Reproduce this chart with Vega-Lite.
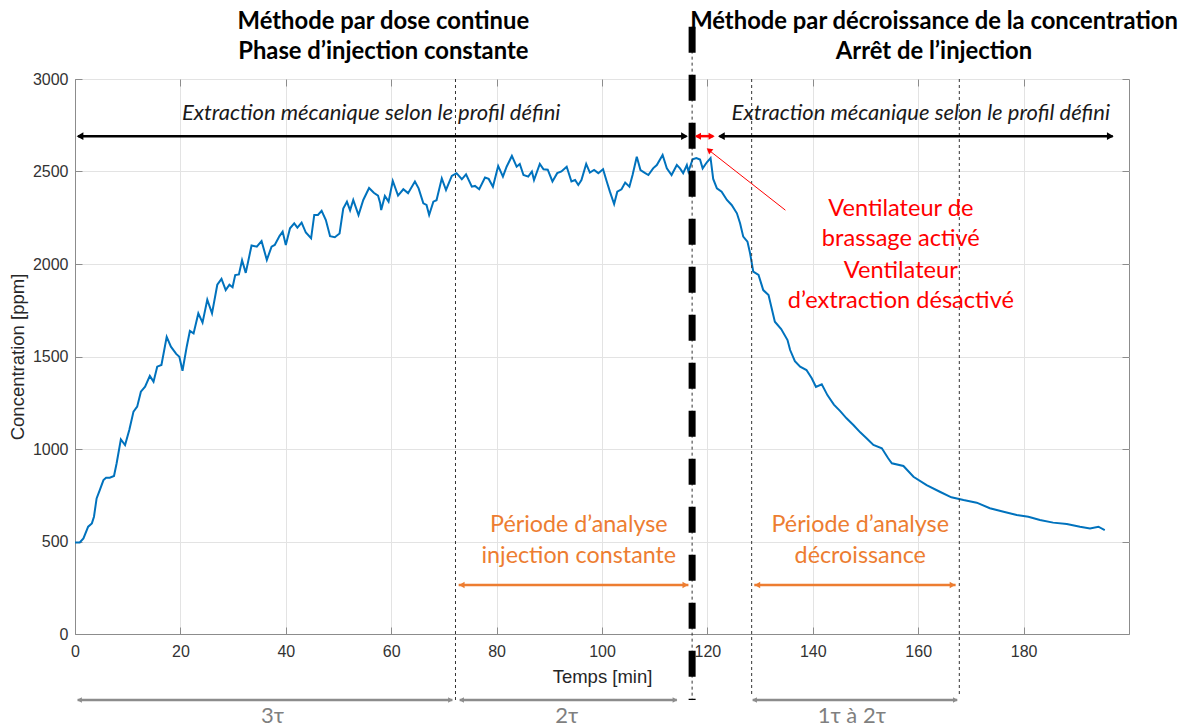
{
  "$schema": "https://vega.github.io/schema/vega-lite/v6.json",
  "width": 1054,
  "height": 555,
  "autosize": "none",
  "padding": {"left": 75, "top": 79, "right": 60, "bottom": 94},
  "config": {"view": {"stroke": "#8c8c8c", "strokeWidth": 1}, "font": "Liberation Sans"},
  "datasets": {
    "curve": [
      {"t":0,"c":495},{"t":0.9,"c":495},{"t":1.6,"c":517},{"t":2.5,"c":580},{"t":3.2,"c":598},{"t":3.6,"c":634},{"t":4.1,"c":733},{"t":4.7,"c":778},{"t":5.4,"c":832},{"t":5.9,"c":845},{"t":6.6,"c":845},{"t":7.4,"c":854},{"t":7.9,"c":923},{"t":8.7,"c":1052},{"t":9.5,"c":1021},{"t":10.3,"c":1103},{"t":11.1,"c":1202},{"t":11.8,"c":1229},{"t":12.5,"c":1310},{"t":13.3,"c":1337},{"t":14.2,"c":1395},{"t":14.9,"c":1364},{"t":15.6,"c":1445},{"t":16.4,"c":1454},{"t":17.4,"c":1606},{"t":18.2,"c":1553},{"t":19.2,"c":1514},{"t":19.8,"c":1499},{"t":20.4,"c":1423},{"t":21.2,"c":1553},{"t":21.8,"c":1638},{"t":22.5,"c":1625},{"t":23.4,"c":1733},{"t":24.2,"c":1683},{"t":25.1,"c":1807},{"t":26.0,"c":1733},{"t":27.0,"c":1888},{"t":27.8,"c":1920},{"t":28.6,"c":1859},{"t":29.3,"c":1888},{"t":29.9,"c":1874},{"t":30.4,"c":1940},{"t":31.1,"c":1944},{"t":31.7,"c":2020},{"t":32.4,"c":1952},{"t":33.5,"c":2100},{"t":34.5,"c":2094},{"t":35.4,"c":2124},{"t":36.4,"c":2022},{"t":37.3,"c":2094},{"t":37.9,"c":2103},{"t":38.8,"c":2151},{"t":39.4,"c":2175},{"t":40.0,"c":2103},{"t":40.8,"c":2193},{"t":41.6,"c":2220},{"t":42.2,"c":2197},{"t":43.0,"c":2224},{"t":43.8,"c":2170},{"t":44.8,"c":2139},{"t":45.4,"c":2265},{"t":46.1,"c":2265},{"t":46.8,"c":2288},{"t":47.6,"c":2238},{"t":48.4,"c":2150},{"t":49.3,"c":2145},{"t":50.2,"c":2165},{"t":50.9,"c":2300},{"t":51.6,"c":2337},{"t":52.2,"c":2290},{"t":52.8,"c":2346},{"t":53.8,"c":2265},{"t":54.7,"c":2346},{"t":55.8,"c":2411},{"t":56.7,"c":2385},{"t":57.5,"c":2370},{"t":57.9,"c":2330},{"t":58.1,"c":2292},{"t":58.8,"c":2368},{"t":59.5,"c":2337},{"t":60.3,"c":2449},{"t":61.3,"c":2370},{"t":62.3,"c":2404},{"t":63.2,"c":2383},{"t":64.5,"c":2446},{"t":65.2,"c":2409},{"t":66.1,"c":2328},{"t":66.7,"c":2319},{"t":67.2,"c":2265},{"t":68.0,"c":2337},{"t":68.6,"c":2345},{"t":69.6,"c":2463},{"t":70.4,"c":2400},{"t":71.5,"c":2476},{"t":72.4,"c":2491},{"t":73.4,"c":2458},{"t":74.2,"c":2485},{"t":75.3,"c":2418},{"t":75.9,"c":2422},{"t":76.7,"c":2404},{"t":77.8,"c":2467},{"t":78.5,"c":2460},{"t":79.3,"c":2418},{"t":80.3,"c":2530},{"t":81.2,"c":2472},{"t":81.9,"c":2526},{"t":82.9,"c":2584},{"t":83.8,"c":2526},{"t":84.4,"c":2541},{"t":85.1,"c":2481},{"t":86.0,"c":2472},{"t":86.7,"c":2500},{"t":87.1,"c":2454},{"t":88.2,"c":2541},{"t":88.9,"c":2512},{"t":89.7,"c":2510},{"t":90.6,"c":2446},{"t":91.5,"c":2491},{"t":92.3,"c":2500},{"t":93.3,"c":2526},{"t":94.2,"c":2446},{"t":94.9,"c":2454},{"t":95.5,"c":2427},{"t":96.1,"c":2454},{"t":97.0,"c":2541},{"t":97.7,"c":2494},{"t":98.5,"c":2508},{"t":99.3,"c":2491},{"t":100.2,"c":2512},{"t":100.9,"c":2446},{"t":101.5,"c":2391},{"t":102.3,"c":2324},{"t":102.9,"c":2391},{"t":103.7,"c":2404},{"t":104.4,"c":2440},{"t":105.2,"c":2418},{"t":105.8,"c":2481},{"t":106.6,"c":2580},{"t":107.3,"c":2508},{"t":108.2,"c":2491},{"t":108.8,"c":2481},{"t":109.7,"c":2517},{"t":110.4,"c":2535},{"t":111.5,"c":2589},{"t":112.3,"c":2517},{"t":113.2,"c":2481},{"t":114.2,"c":2535},{"t":114.8,"c":2517},{"t":115.4,"c":2491},{"t":116.1,"c":2535},{"t":116.4,"c":2500},{"t":117.2,"c":2566},{"t":117.9,"c":2573},{"t":118.6,"c":2565},{"t":119.1,"c":2517},{"t":119.9,"c":2550},{"t":120.6,"c":2573},{"t":121.1,"c":2460},{"t":121.8,"c":2409},{"t":122.7,"c":2391},{"t":123.7,"c":2346},{"t":124.6,"c":2319},{"t":125.6,"c":2274},{"t":126.2,"c":2220},{"t":126.8,"c":2148},{"t":127.6,"c":2121},{"t":128.1,"c":2058},{"t":128.7,"c":1959},{"t":129.7,"c":1941},{"t":130.6,"c":1859},{"t":131.6,"c":1832},{"t":132.8,"c":1688},{"t":134.0,"c":1648},{"t":135.2,"c":1589},{"t":135.7,"c":1535},{"t":136.6,"c":1475},{"t":137.6,"c":1445},{"t":138.8,"c":1427},{"t":139.8,"c":1382},{"t":140.6,"c":1335},{"t":141.7,"c":1350},{"t":142.8,"c":1290},{"t":144.0,"c":1240},{"t":145.2,"c":1205},{"t":146.4,"c":1166},{"t":147.7,"c":1130},{"t":149.0,"c":1090},{"t":150.2,"c":1058},{"t":151.5,"c":1022},{"t":153.1,"c":1004},{"t":154.3,"c":950},{"t":155.0,"c":923},{"t":157.2,"c":908},{"t":159.1,"c":850},{"t":161.6,"c":805},{"t":164.1,"c":769},{"t":166.3,"c":739},{"t":168.6,"c":724},{"t":171.1,"c":710},{"t":173.6,"c":680},{"t":176.2,"c":661},{"t":178.7,"c":643},{"t":180.9,"c":634},{"t":183.1,"c":616},{"t":185.6,"c":602},{"t":188.2,"c":595},{"t":190.7,"c":580},{"t":192.6,"c":571},{"t":194.2,"c":580},{"t":195.4,"c":562}
    ],
    "vlines": [
      {"t": 72.2, "top": 3000, "bottom": -357},
      {"t": 117.1, "top": 3283, "bottom": -357},
      {"t": 128.4, "top": 3000, "bottom": -330},
      {"t": 167.8, "top": 3000, "bottom": -330}
    ],
    "segments": [
      {"x1": 0.6, "x2": 116.0, "y": 2691, "g": "extraction"},
      {"x1": 122.3, "x2": 196.9, "y": 2691, "g": "extraction"},
      {"x1": 117.9, "x2": 121.1, "y": 2691, "g": "brassage"},
      {"x1": 72.8, "x2": 116.4, "y": 265, "g": "analyse"},
      {"x1": 128.9, "x2": 167.1, "y": 265, "g": "analyse"},
      {"x1": 0.5, "x2": 71.6, "y": -357, "g": "tau"},
      {"x1": 73.0, "x2": 114.2, "y": -357, "g": "tau"},
      {"x1": 128.6, "x2": 167.4, "y": -357, "g": "tau"}
    ],
    "heads": [
      {"t": 0.95, "y": 2691, "g": "extraction", "dir": "left"},
      {"t": 115.65, "y": 2691, "g": "extraction", "dir": "right"},
      {"t": 122.65, "y": 2691, "g": "extraction", "dir": "left"},
      {"t": 196.45, "y": 2691, "g": "extraction", "dir": "right"},
      {"t": 118.2, "y": 2691, "g": "brassage", "dir": "left"},
      {"t": 120.8, "y": 2691, "g": "brassage", "dir": "right"},
      {"t": 73.4, "y": 265, "g": "analyse", "dir": "left"},
      {"t": 115.8, "y": 265, "g": "analyse", "dir": "right"},
      {"t": 129.5, "y": 265, "g": "analyse", "dir": "left"},
      {"t": 166.5, "y": 265, "g": "analyse", "dir": "right"},
      {"t": 0.85, "y": -357, "g": "tau", "dir": "left"},
      {"t": 71.25, "y": -357, "g": "tau", "dir": "right"},
      {"t": 73.35, "y": -357, "g": "tau", "dir": "left"},
      {"t": 113.85, "y": -357, "g": "tau", "dir": "right"},
      {"t": 128.95, "y": -357, "g": "tau", "dir": "left"},
      {"t": 167.05, "y": -357, "g": "tau", "dir": "right"}
    ]
  },
  "layer": [
    {
      "data": {"name": "curve"},
      "mark": {"type": "line", "color": "#0072BD", "strokeWidth": 2},
      "encoding": {
        "x": {"field": "t", "type": "quantitative", "scale": {"domain": [0, 200], "nice": false},
          "axis": {"orient": "bottom", "values": [0,20,40,60,80,100,120,140,160,180], "title": "Temps [min]", "format": "d",
            "titleFont": "Liberation Sans", "titleFontSize": 18.5, "titleFontWeight": "normal", "titleColor": "#262626", "titlePadding": 8,
            "labelFont": "Liberation Sans", "labelFontSize": 16, "labelColor": "#333333", "labelPadding": 16, "labelFlush": false, "labelOverlap": false,
            "tickSize": -7, "tickColor": "#8c8c8c", "domainColor": "#8c8c8c", "grid": true, "gridColor": "#e3e3e3"}},
        "y": {"field": "c", "type": "quantitative", "scale": {"domain": [0, 3000], "nice": false},
          "axis": {"orient": "left", "values": [0,500,1000,1500,2000,2500,3000], "title": "Concentration [ppm]", "format": "d",
            "titleFont": "Liberation Sans", "titleFontSize": 18.5, "titleFontWeight": "normal", "titleColor": "#262626", "titlePadding": 5,
            "labelFont": "Liberation Sans", "labelFontSize": 16, "labelColor": "#333333", "labelPadding": 14, "labelFlush": false, "labelOverlap": false,
            "tickSize": -7, "tickColor": "#8c8c8c", "domainColor": "#8c8c8c", "grid": true, "gridColor": "#e3e3e3"}}
      }
    },
    {
      "data": {"name": "vlines"},
      "mark": {"type": "rule", "color": "#333333", "strokeWidth": 1, "strokeDash": [3, 3]},
      "encoding": {
        "x": {"field": "t", "type": "quantitative",
          "axis": {"orient": "top", "values": [0,20,40,60,80,100,120,140,160,180], "labels": false, "grid": false, "domain": false, "title": null, "tickSize": -7, "tickColor": "#8c8c8c"}},
        "y": {"field": "top", "type": "quantitative",
          "axis": {"orient": "right", "values": [0,500,1000,1500,2000,2500,3000], "labels": false, "grid": false, "domain": false, "title": null, "tickSize": -7, "tickColor": "#8c8c8c"}},
        "y2": {"field": "bottom"}
      }
    },
    {
      "data": {"values": [{"t": 117.1, "top": 3283, "bottom": -357}]},
      "mark": {"type": "rule", "color": "#000000", "strokeWidth": 7, "strokeDash": [26, 22]},
      "encoding": {
        "x": {"field": "t", "type": "quantitative", "axis": null},
        "y": {"field": "top", "type": "quantitative", "axis": null},
        "y2": {"field": "bottom"}
      }
    },
    {
      "data": {"name": "segments"},
      "mark": {"type": "rule"},
      "encoding": {
        "x": {"field": "x1", "type": "quantitative", "axis": null},
        "x2": {"field": "x2"},
        "y": {"field": "y", "type": "quantitative", "axis": null},
        "color": {"field": "g", "type": "nominal", "legend": null,
          "scale": {"domain": ["extraction", "brassage", "analyse", "tau"], "range": ["#000000", "#ff0000", "#ED7D31", "#8c8c8c"]}},
        "strokeWidth": {"field": "g", "type": "ordinal", "legend": null,
          "scale": {"domain": ["extraction", "brassage", "analyse", "tau"], "range": [2.5, 2.5, 4, 1.5]}}
      }
    },
    {
      "data": {"name": "heads"},
      "mark": {"type": "point", "filled": true, "opacity": 1, "strokeWidth": 0},
      "encoding": {
        "x": {"field": "t", "type": "quantitative", "axis": null},
        "y": {"field": "y", "type": "quantitative", "axis": null},
        "shape": {"field": "dir", "type": "nominal", "legend": null,
          "scale": {"domain": ["left", "right"], "range": ["triangle-left", "triangle-right"]}},
        "color": {"field": "g", "type": "nominal", "legend": null,
          "scale": {"domain": ["extraction", "brassage", "analyse", "tau"], "range": ["#000000", "#ff0000", "#ED7D31", "#8c8c8c"]}},
        "size": {"field": "g", "type": "ordinal", "legend": null,
          "scale": {"domain": ["extraction", "brassage", "analyse", "tau"], "range": [60, 30, 170, 45]}}
      }
    },
    {
      "data": {"values": [{"t1": 134.8, "c1": 2291, "t2": 120.3, "c2": 2615}]},
      "mark": {"type": "rule", "color": "#ff0000", "strokeWidth": 1},
      "encoding": {
        "x": {"field": "t1", "type": "quantitative", "axis": null},
        "y": {"field": "c1", "type": "quantitative", "axis": null},
        "x2": {"field": "t2"},
        "y2": {"field": "c2"}
      }
    },
    {
      "data": {"values": [{"t": 120.3, "c": 2616}]},
      "mark": {"type": "point", "shape": "triangle-up", "filled": true, "opacity": 1, "color": "#ff0000", "size": 45, "angle": 309, "strokeWidth": 0},
      "encoding": {
        "x": {"field": "t", "type": "quantitative", "axis": null},
        "y": {"field": "c", "type": "quantitative", "axis": null}
      }
    },
    {
      "data": {"values": [
        {"t": 58.5, "c": 3308, "txt": "Méthode par dose continue"},
        {"t": 58.5, "c": 3146, "txt": "Phase d’injection constante"},
        {"t": 163.0, "c": 3308, "txt": "Méthode par décroissance de la concentration"},
        {"t": 163.0, "c": 3146, "txt": "Arrêt de l’injection"}
      ]},
      "mark": {"type": "text", "font": "Lato", "fontWeight": "bold", "fontSize": 23.8, "color": "#000000", "align": "center", "baseline": "middle"},
      "encoding": {
        "x": {"field": "t", "type": "quantitative", "axis": null},
        "y": {"field": "c", "type": "quantitative", "axis": null},
        "text": {"field": "txt"}
      }
    },
    {
      "data": {"values": [
        {"t": 56.2, "c": 2818, "txt": "Extraction mécanique selon le profil défini"},
        {"t": 160.5, "c": 2818, "txt": "Extraction mécanique selon le profil défini"}
      ]},
      "mark": {"type": "text", "font": "Lato", "fontStyle": "italic", "fontSize": 22, "color": "#1a1a1a", "align": "center", "baseline": "middle"},
      "encoding": {
        "x": {"field": "t", "type": "quantitative", "axis": null},
        "y": {"field": "c", "type": "quantitative", "axis": null},
        "text": {"field": "txt"}
      }
    },
    {
      "data": {"values": [
        {"t": 156.7, "c": 2300, "txt": "Ventilateur de"},
        {"t": 156.7, "c": 2136, "txt": "brassage activé"},
        {"t": 156.7, "c": 1963, "txt": "Ventilateur"},
        {"t": 156.7, "c": 1800, "txt": "d’extraction désactivé"}
      ]},
      "mark": {"type": "text", "font": "Lato", "fontSize": 23.6, "color": "#ff0000", "align": "center", "baseline": "middle"},
      "encoding": {
        "x": {"field": "t", "type": "quantitative", "axis": null},
        "y": {"field": "c", "type": "quantitative", "axis": null},
        "text": {"field": "txt"}
      }
    },
    {
      "data": {"values": [
        {"t": 95.6, "c": 589, "txt": "Période d’analyse"},
        {"t": 95.6, "c": 422, "txt": "injection constante"},
        {"t": 149.0, "c": 589, "txt": "Période d’analyse"},
        {"t": 149.0, "c": 422, "txt": "décroissance"}
      ]},
      "mark": {"type": "text", "font": "Lato", "fontSize": 23.3, "color": "#ED7D31", "align": "center", "baseline": "middle"},
      "encoding": {
        "x": {"field": "t", "type": "quantitative", "axis": null},
        "y": {"field": "c", "type": "quantitative", "axis": null},
        "text": {"field": "txt"}
      }
    },
    {
      "data": {"values": [
        {"t": 37.5, "c": -443, "txt": "3τ"},
        {"t": 93.3, "c": -443, "txt": "2τ"},
        {"t": 147.4, "c": -443, "txt": "1τ à 2τ"}
      ]},
      "mark": {"type": "text", "font": "Lato", "fontSize": 22, "color": "#7f7f7f", "align": "center", "baseline": "middle"},
      "encoding": {
        "x": {"field": "t", "type": "quantitative", "axis": null},
        "y": {"field": "c", "type": "quantitative", "axis": null},
        "text": {"field": "txt"}
      }
    }
  ],
  "resolve": {"axis": {"x": "independent", "y": "independent"}}
}
